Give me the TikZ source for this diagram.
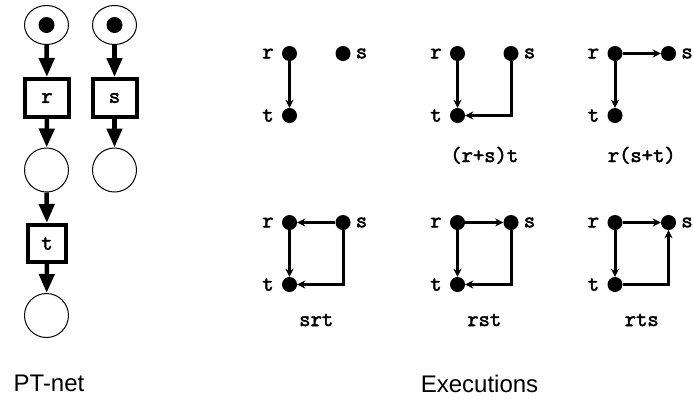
\documentclass[tikz,border=0pt]{standalone}
\usepackage{fontspec}
\setmainfont{Liberation Sans}
\setmonofont{Latin Modern Mono}[AutoFakeBold=2.2]
\usetikzlibrary{arrows.meta,shapes.geometric}

\tikzset{
  place/.style={draw, ellipse, line width=1pt, inner sep=0pt,
    minimum width=44pt, minimum height=44pt},
  token/.style={circle, fill, inner sep=0pt, minimum size=16pt},
  trans/.style={draw, rectangle, line width=4pt, inner sep=0pt,
    minimum width=44pt, minimum height=38pt,
    font=\ttfamily\bfseries\fontsize{22}{26}\selectfont},
  netarc/.style={-{Triangle[length=19pt,width=15pt]}, line width=4.5pt},
  ev/.style={circle, fill, inner sep=0pt, minimum size=15pt},
  evlab/.style={inner sep=0pt, font=\ttfamily\bfseries\fontsize{22}{26}\selectfont},
  ord/.style={-{Stealth[length=8pt,width=8pt,inset=2.5pt]}, line width=3pt},
  caption/.style={anchor=base, font=\ttfamily\bfseries\fontsize{22}{26}\selectfont},
  title/.style={anchor=base, font=\fontsize{24}{28}\selectfont}
}

\begin{document}
\begin{tikzpicture}[x=1pt, y=-1pt]
\useasboundingbox (0,0) rectangle (693,400);

% ---- PT-net ----
\node[place, minimum height=39pt] (p1) at (46.5,25) {};
\node[place, minimum height=39pt] (p2) at (114.5,25) {};
\node[token] (k1) at (p1.center) {};
\node[token] (k2) at (p2.center) {};
\node[trans] (tr) at (47,98) {r};
\node[trans] (ts) at (114.5,98) {s};
\node[place] (p3) at (46.5,170) {};
\node[place] (p4) at (114.5,170) {};
\node[trans, minimum width=38pt, minimum height=37pt] (tt) at (47,243.5) {t};
\node[place] (p5) at (46.5,315.5) {};

\draw[netarc] (p1) -- (tr);
\draw[netarc] (tr) -- (p3);
\draw[netarc] (p3) -- (tt);
\draw[netarc] (tt) -- (p5);
\draw[netarc] (p2) -- (ts);
\draw[netarc] (ts) -- (p4);

\node[title] (ptlab) at (49,391) {PT-net};

% ---- Executions ----
% r, s, t events of each execution: columns at x = 289.5, 457.5, 615
\foreach \n/\x/\y in {a/289.5/53.5, b/457.5/53.5, c/615/53.5,
                      d/289.5/222.5, e/457.5/222.5, f/615/222.5}{
  \node[ev, label={[evlab, label distance=8pt]left:r}] (\n r) at (\x,\y) {};
  \node[ev, label={[evlab, label distance=5pt]right:s}] (\n s) at (\x+53.5,\y) {};
  \node[ev, label={[evlab, label distance=8pt]left:t}] (\n t) at (\x,\y+62) {};
}

% r t  (s concurrent)
\draw[ord] (ar) -- (at);
% (r+s)t
\draw[ord] (br) -- (bt);
\draw[ord] (bs) |- (bt);
% r(s+t)
\draw[ord] (cr) -- (cs);
\draw[ord] (cr) -- (ct);
% srt
\draw[ord] (ds) -- (dr);
\draw[ord] (dr) -- (dt);
\draw[ord] (ds) |- (dt);
% rst
\draw[ord] (er) -- (es);
\draw[ord] (er) -- (et);
\draw[ord] (es) |- (et);
% rts
\draw[ord] (fr) -- (fs);
\draw[ord] (fr) -- (ft);
\draw[ord] (ft) -| (fs);

\node[caption] (cb) at (484.25,162) {(r+s)t};
\node[caption] (cc) at (641.75,162) {r(s+t)};
\node[caption] (cd) at (316.25,326) {srt};
\node[caption] (ce) at (484.25,326) {rst};
\node[caption] (cf) at (641.75,326) {rts};

\node[title] (exlab) at (479.5,392) {Executions};
\end{tikzpicture}
\end{document}
